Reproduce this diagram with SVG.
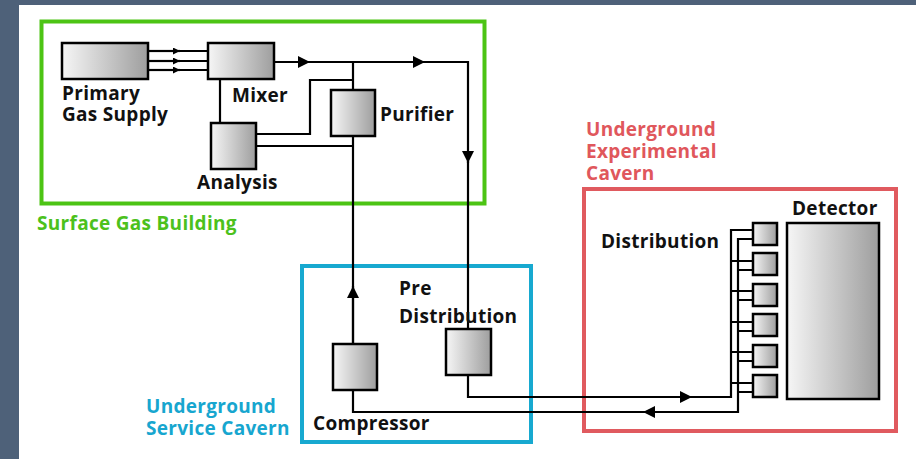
<svg xmlns="http://www.w3.org/2000/svg" width="916" height="459" viewBox="0 0 916 459">
<defs>
<linearGradient id="g" x1="0" y1="0" x2="1" y2="0">
<stop offset="0" stop-color="#f6f6f6"/>
<stop offset="1" stop-color="#9e9e9e"/>
</linearGradient>
<marker id="arr" viewBox="0 0 10 10" refX="10" refY="5" markerUnits="userSpaceOnUse" markerWidth="13" markerHeight="12" orient="auto">
<path d="M0,0 L10,5 L0,10 z" fill="#000"/>
</marker>
<marker id="sarr" viewBox="0 0 10 10" refX="10" refY="5" markerUnits="userSpaceOnUse" markerWidth="8" markerHeight="7" orient="auto">
<path d="M0,0 L10,5 L0,10 z" fill="#000"/>
</marker>
<style>
.box{fill:url(#g);stroke:#000;stroke-width:2.5}
.ln{fill:none;stroke:#000;stroke-width:2.2}
.t{font-family:"Open Sans","Noto Sans",sans-serif;font-weight:bold;font-size:19px;letter-spacing:0.3px;fill:#111}
.gr{fill:#4cc11c}
.bl{fill:#17a6cf}
.rd{fill:#e0575c}
.area{fill:none;stroke-width:4}
</style>
</defs>
<rect x="0" y="0" width="916" height="459" fill="#ffffff"/>
<rect x="0" y="0" width="916" height="5" fill="#4e6179"/>
<rect x="0" y="0" width="19" height="459" fill="#4e6179"/>

<g id="areas">
<rect id="surface" x="41.5" y="21.5" width="443" height="182" class="area" stroke="#4cc414"/>
<rect id="service" x="302" y="266" width="229" height="176" class="area" stroke="#17a9d0"/>
<rect id="experimental" x="584" y="189" width="312" height="242" class="area" stroke="#e05a5f"/>
<text class="t gr" x="37" y="230">Surface Gas Building</text>
<text class="t bl" x="146" y="413">Underground</text>
<text class="t bl" x="146" y="435">Service Cavern</text>
<text class="t rd" x="586" y="136">Underground</text>
<text class="t rd" x="586" y="158">Experimental</text>
<text class="t rd" x="586" y="180">Cavern</text>
</g>

<g id="connectors">
<path class="ln" d="M148,51 H180" marker-end="url(#sarr)"/>
<path class="ln" d="M148,61 H180" marker-end="url(#sarr)"/>
<path class="ln" d="M148,70 H180" marker-end="url(#sarr)"/>
<path class="ln" d="M178,51 H208 M178,61 H208 M178,70 H208"/>
<path class="ln" d="M220,79 V123"/>
<path class="ln" d="M274,62 H310" marker-end="url(#arr)"/>
<path class="ln" d="M308,62 H425" marker-end="url(#arr)"/>
<path class="ln" d="M423,62 H468 V163" marker-end="url(#arr)"/>
<path class="ln" d="M468,161 V329"/>
<path class="ln" d="M353,62 V90"/>
<path class="ln" d="M256,134 H310 V80 H353"/>
<path class="ln" d="M256,146 H353"/>
<path class="ln" d="M353,136 V344"/>
<path class="ln" d="M353,344 V286" marker-end="url(#arr)"/>
<path class="ln" d="M468,375 V397 H692" marker-end="url(#arr)"/>
<path class="ln" d="M690,397 H731 V230 H753"/>
<path class="ln" d="M753,239 H738 V412 H643" marker-end="url(#arr)"/>
<path class="ln" d="M353,390 V412 H645"/>
<path class="ln" d="M731,261 H753 M738,270 H753 M731,291 H753 M738,300 H753 M731,322 H753 M738,331 H753 M731,352 H753 M738,361 H753 M731,383 H753 M738,392 H753"/>
</g>

<g id="primary"><rect class="box" x="62" y="43" width="86" height="36"/>
<text class="t" x="62" y="100">Primary</text><text class="t" x="62" y="121">Gas Supply</text></g>
<g id="mixer"><rect class="box" x="208" y="43" width="66" height="36"/>
<text class="t" x="232" y="102">Mixer</text></g>
<g id="analysis"><rect class="box" x="211" y="123" width="45" height="46"/>
<text class="t" x="197" y="189">Analysis</text></g>
<g id="purifier"><rect class="box" x="331" y="90" width="44" height="46"/>
<text class="t" x="380" y="121">Purifier</text></g>
<g id="compressor"><rect class="box" x="333" y="344" width="44" height="46"/>
<text class="t" x="313" y="430">Compressor</text></g>
<g id="predistribution"><rect class="box" x="446" y="329" width="45" height="46"/>
<text class="t" x="399" y="295">Pre</text><text class="t" x="399" y="323">Distribution</text></g>
<g id="distribution">
<rect class="box" x="753" y="223" width="24" height="22"/>
<rect class="box" x="753" y="253" width="24" height="22"/>
<rect class="box" x="753" y="284" width="24" height="22"/>
<rect class="box" x="753" y="314" width="24" height="22"/>
<rect class="box" x="753" y="345" width="24" height="22"/>
<rect class="box" x="753" y="375" width="24" height="22"/>
<text class="t" x="601" y="248">Distribution</text></g>
<g id="detector"><rect class="box" x="787" y="223" width="92" height="176"/>
<text class="t" x="792" y="215">Detector</text></g>
</svg>
